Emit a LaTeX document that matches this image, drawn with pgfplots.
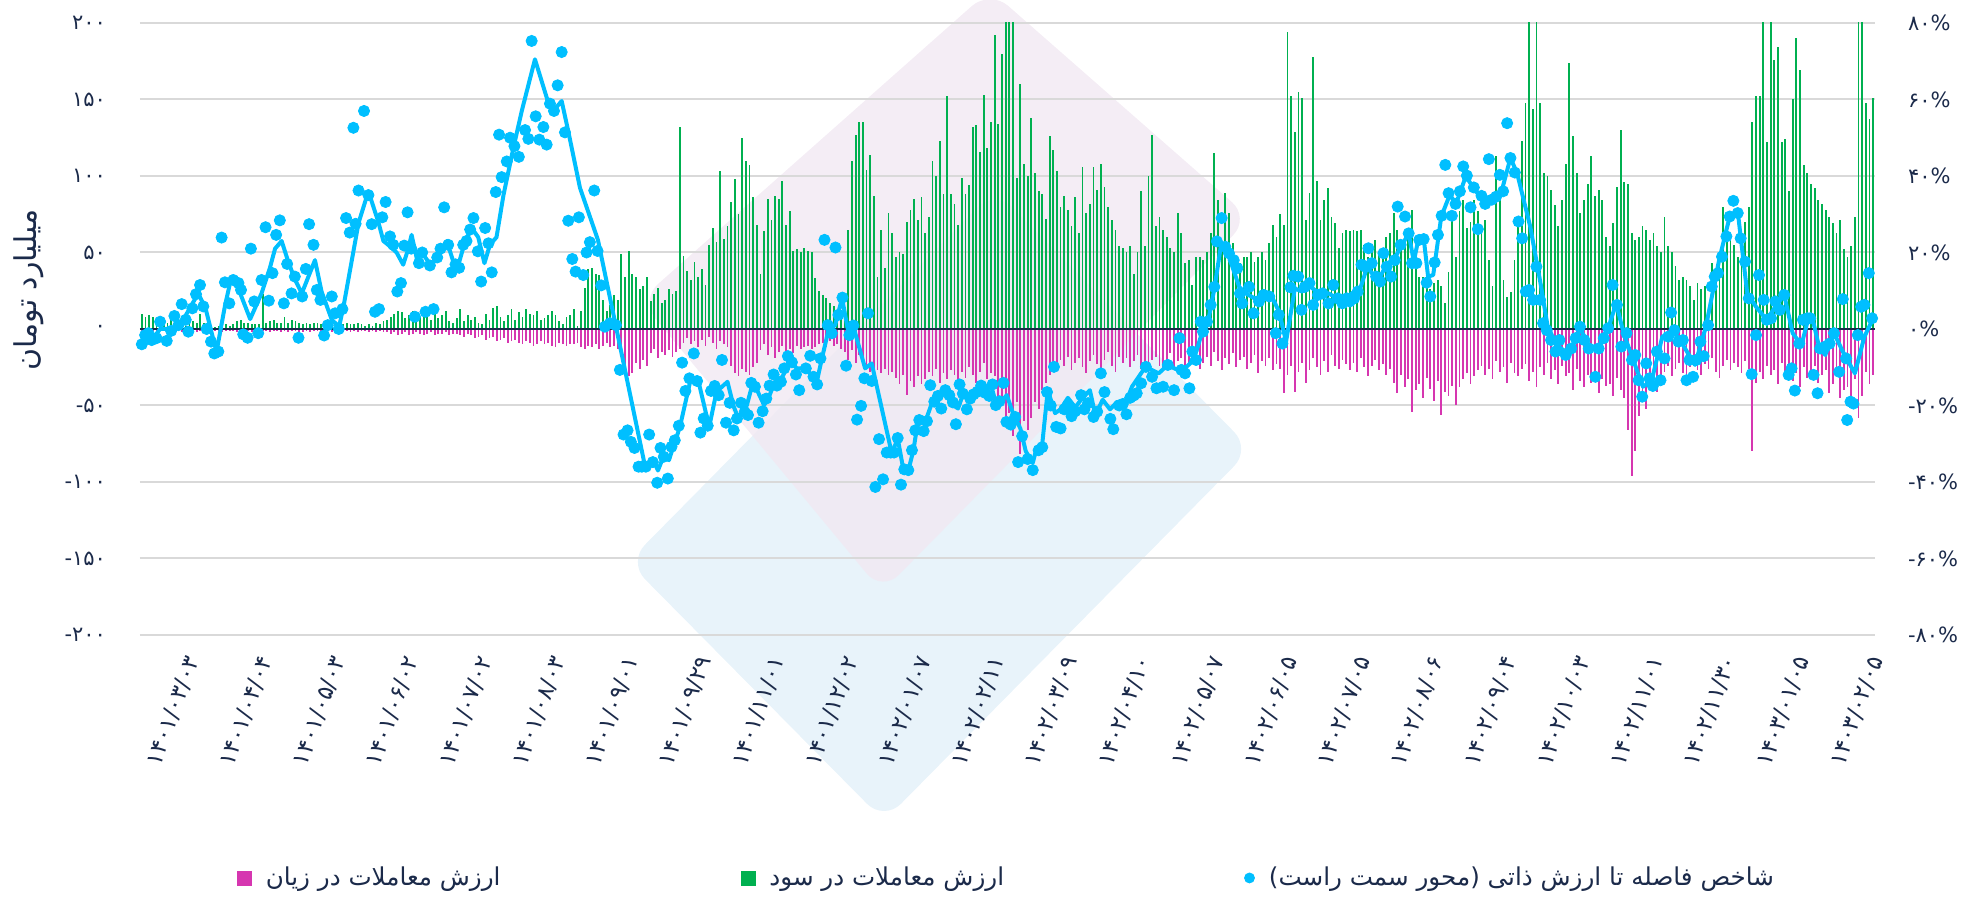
\documentclass[border=0pt]{standalone}
\usepackage{pgfplots}
\pgfplotsset{compat=1.18}
\usepackage{pgfplotstable}
\usepackage{fontspec}
\setmainfont{DejaVu Sans}
\newfontfamily\fa[Script=Arabic]{DejaVu Sans}
\TeXXeTstate=1
\definecolor{navy}{RGB}{27,42,74}
\definecolor{gbar}{RGB}{0,176,80}
\definecolor{mbar}{RGB}{214,54,176}
\definecolor{cy}{RGB}{0,191,255}
\definecolor{gridc}{RGB}{217,217,217}
\definecolor{pinkbg}{RGB}{241,232,242}
\definecolor{bluebg}{RGB}{232,243,250}
\newcommand{\mn}{-\kern0pt}

\pgfplotstableread[row sep=\\]{g\\10\\8\\9\\8\\7\\3\\6\\4\\8\\3\\5\\3\\2\\6\\5\\4\\10\\4\\4\\2\\1\\2\\3\\3\\2\\3\\5\\6\\4\\4\\3\\3\\3\\23\\4\\5\\6\\4\\4\\8\\4\\6\\5\\4\\3\\4\\3\\4\\4\\3\\2\\4\\3\\2\\2\\3\\4\\3\\3\\4\\3\\
2\\3\\2\\4\\3\\5\\6\\8\\10\\12\\11\\7\\9\\12\\10\\8\\13\\9\\6\\11\\7\\9\\12\\5\\4\\7\\13\\5\\9\\6\\8\\4\\3\\10\\6\\14\\15\\8\\5\\9\\13\\6\\11\\8\\13\\10\\9\\12\\6\\7\\9\\12\\9\\5\\3\\8\\9\\
13\\2\\12\\27\\39\\40\\36\\35\\19\\12\\16\\22\\19\\49\\34\\51\\36\\34\\26\\28\\34\\18\\23\\27\\17\\19\\26\\23\\25\\132\\48\\38\\32\\44\\34\\39\\29\\55\\66\\57\\103\\59\\67\\83\\98\\75\\125\\110\\107\\86\\68\\36\\64\\85\\71\\87\\85\\97\\68\\77\\51\\
52\\50\\53\\51\\50\\33\\25\\22\\20\\17\\15\\10\\10\\10\\65\\110\\127\\135\\135\\104\\114\\87\\34\\65\\40\\76\\63\\47\\50\\49\\70\\78\\85\\71\\86\\63\\73\\110\\100\\123\\88\\152\\88\\82\\68\\99\\88\\94\\132\\133\\116\\153\\118\\135\\192\\134\\180\\210\\215\\210\\99\\160\\
108\\100\\138\\102\\90\\88\\72\\126\\117\\103\\80\\87\\78\\67\\86\\63\\106\\76\\82\\106\\91\\108\\93\\80\\71\\65\\54\\53\\50\\54\\36\\50\\90\\54\\100\\127\\67\\73\\65\\60\\53\\50\\76\\63\\43\\45\\29\\47\\47\\45\\50\\63\\115\\84\\54\\89\\76\\56\\45\\43\\47\\47\\50\\44\\47\\50\\45\\56\\68\\60\\75\\68\\194\\152\\129\\155\\151\\71\\89\\178\\97\\71\\84\\92\\73\\69\\53\\63\\65\\64\\
65\\64\\65\\55\\47\\54\\58\\50\\53\\60\\63\\76\\65\\58\\62\\63\\78\\54\\34\\34\\37\\26\\30\\32\\28\\17\\37\\73\\47\\77\\84\\66\\70\\84\\77\\67\\71\\45\\28\\113\\93\\32\\21\\24\\45\\67\\123\\148\\215\\144\\210\\148\\102\\100\\91\\81\\67\\84\\108\\174\\126\\102\\76\\84\\95\\113\\87\\91\\84\\60\\54\\69\\93\\130\\96\\95\\63\\58\\60\\67\\65\\58\\63\\54\\50\\73\\54\\50\\41\\32\\34\\32\\28\\19\\30\\26\\28\\12\\43\\34\\50\\80\\67\\58\\55\\47\\63\\70\\80\\135\\152\\152\\212\\122\\210\\176\\184\\122\\124\\90\\150\\190\\169\\107\\102\\95\\92\\84\\82\\78\\73\\69\\63\\71\\52\\47\\54\\73\\205\\210\\148\\137\\151\\}\gtab

\pgfplotstableread[row sep=\\]{m\\-1\\-2\\-1\\-1\\-2\\-1\\-1\\-1\\-2\\-1\\-1\\-2\\-1\\-1\\-1\\-2\\-1\\-1\\-1\\-2\\-1\\-1\\-2\\-1\\-1\\-1\\-2\\-1\\-1\\-1\\-2\\-1\\-2\\-1\\-1\\-2\\-1\\-1\\-2\\-1\\-2\\-1\\-1\\-2\\-2\\-1\\-2\\-1\\-1\\-2\\-2\\-1\\-2\\-1\\-2\\-2\\-1\\-2\\-1\\-2\\-1\\
-1\\-2\\-1\\-2\\-1\\-2\\-2\\-3\\-2\\-4\\-3\\-2\\-4\\-3\\-2\\-3\\-4\\-3\\-2\\-4\\-3\\-3\\-2\\-4\\-3\\-3\\-4\\-5\\-3\\-4\\-6\\-5\\-4\\-7\\-6\\-5\\-8\\-7\\-6\\-9\\-8\\-7\\-9\\-10\\-8\\-9\\-11\\-10\\-8\\-10\\-9\\-11\\-12\\-9\\-10\\-11\\-10\\
-10\\-9\\-12\\-13\\-11\\-12\\-10\\-13\\-11\\-9\\-12\\-11\\-13\\-18\\-25\\-31\\-29\\-22\\-26\\-20\\-24\\-16\\-13\\-19\\-15\\-17\\-14\\-18\\-15\\-13\\-9\\-6\\-10\\-8\\-12\\-7\\-11\\-5\\-9\\-13\\-8\\-10\\-12\\-24\\-29\\-31\\-26\\-28\\-30\\-25\\-22\\-14\\-10\\-17\\-12\\-19\\-15\\-11\\-18\\-13\\-16\\
-11\\-13\\-12\\-11\\-13\\-12\\-10\\-9\\-12\\-8\\-11\\-10\\-13\\-15\\-20\\-14\\-22\\-17\\-19\\-26\\-28\\-30\\-27\\-29\\-26\\-30\\-28\\-32\\-36\\-30\\-43\\-34\\-38\\-31\\-36\\-33\\-28\\-31\\-26\\-35\\-29\\-33\\-27\\-30\\-34\\-28\\-32\\-25\\-30\\-35\\-28\\-22\\-33\\-29\\-31\\-45\\-50\\-62\\-55\\-70\\-48\\-82\\
-60\\-66\\-58\\-48\\-52\\-40\\-35\\-30\\-28\\-25\\-20\\-24\\-18\\-27\\-22\\-19\\-25\\-29\\-21\\-17\\-23\\-26\\-20\\-15\\-24\\-28\\-18\\-22\\-19\\-25\\-21\\-17\\-26\\-23\\-29\\-20\\-18\\-24\\-27\\-22\\-16\\-25\\-21\\-19\\-28\\-23\\-17\\-20\\-26\\-22\\-18\\-24\\-15\\-21\\-27\\-19\\-23\\-16\\-25\\-20\\-18\\-26\\-22\\-17\\-29\\-21\\-24\\-19\\-27\\-23\\-26\\-42\\-30\\-24\\-41\\-28\\-22\\-35\\-27\\-19\\-25\\-30\\-21\\-28\\-17\\-24\\-26\\-20\\-23\\-27\\
-22\\-28\\-19\\-25\\-31\\-24\\-20\\-27\\-23\\-30\\-26\\-35\\-42\\-30\\-38\\-33\\-54\\-40\\-36\\-45\\-32\\-39\\-47\\-34\\-56\\-41\\-44\\-37\\-50\\-38\\-33\\-29\\-36\\-31\\-27\\-24\\-30\\-26\\-33\\-21\\-28\\-25\\-35\\-22\\-29\\-31\\-26\\-23\\-34\\-28\\-38\\-25\\-30\\-22\\-33\\-27\\-36\\-24\\-31\\-29\\-40\\-26\\-34\\-38\\-30\\-35\\-28\\-42\\-33\\-37\\-36\\-44\\-32\\-40\\-45\\-66\\-96\\-80\\-57\\-43\\-52\\-38\\-35\\-41\\-33\\-28\\-24\\-31\\-26\\-22\\-29\\-33\\-25\\-21\\-27\\-30\\-23\\-26\\-19\\-28\\-32\\-24\\-20\\-27\\-22\\-25\\-29\\-21\\-26\\-80\\-35\\-28\\-33\\-24\\-30\\-27\\-36\\-22\\-31\\-26\\-34\\-29\\-38\\-25\\-32\\-28\\-24\\-35\\-30\\-27\\-42\\-36\\-31\\-45\\-40\\-38\\-47\\-33\\-58\\-44\\-28\\-36\\-30\\}\mtab

\begin{document}
\begin{tikzpicture}
\path[use as bounding box] (-70pt,-131pt) rectangle (920.5pt,317.5pt);
\fill[bluebg, rounded corners=12pt] (244pt,36.5pt) -- (372pt,-93pt) -- (555.5pt,93pt) -- (427.5pt,222.5pt) -- cycle;
\fill[pinkbg, opacity=0.8, rounded corners=12pt] (425pt,322.5pt) -- (555pt,208.5pt) -- (371pt,21.5pt) -- (250pt,167.5pt) -- cycle;

\begin{axis}[
  at={(0,0)}, anchor=south west,
  scale only axis, width=867.5pt, height=306pt,
  xmin=-0.5, xmax=473.5, ymin=-200, ymax=200,
  enlargelimits=false, clip=true,
  axis line style={draw=none},
  major tick length=0pt,
  ymajorgrids, grid style={gridc, line width=1pt},
  ytick={-200,-150,...,200},
  yticklabels={\mn۲۰۰,\mn۱۵۰,\mn۱۰۰,\mn۵۰,۰,۵۰,۱۰۰,۱۵۰,۲۰۰},
  yticklabel style={font=\fa\fontsize{10.5}{12}\selectfont, text=navy, xshift=-13.5pt},
  xtick={13,33,...,473},
  xticklabels={۱۴۰۱/۰۳/۰۳,۱۴۰۱/۰۴/۰۴,۱۴۰۱/۰۵/۰۳,۱۴۰۱/۰۶/۰۲,۱۴۰۱/۰۷/۰۲,۱۴۰۱/۰۸/۰۳,۱۴۰۱/۰۹/۰۱,۱۴۰۱/۰۹/۲۹,۱۴۰۱/۱۱/۰۱,۱۴۰۱/۱۲/۰۲,۱۴۰۲/۰۱/۰۷,۱۴۰۲/۰۲/۱۱,۱۴۰۲/۰۳/۰۹,۱۴۰۲/۰۴/۱۰,۱۴۰۲/۰۵/۰۷,۱۴۰۲/۰۶/۰۵,۱۴۰۲/۰۷/۰۵,۱۴۰۲/۰۸/۰۶,۱۴۰۲/۰۹/۰۴,۱۴۰۲/۱۰/۰۳,۱۴۰۲/۱۱/۰۱,۱۴۰۲/۱۱/۳۰,۱۴۰۳/۰۱/۰۵,۱۴۰۳/۰۲/۰۵},
  xticklabel style={font=\fa\fontsize{11.5}{13}\selectfont, text=navy, anchor=east, inner sep=1pt, xshift=2pt, yshift=-10pt, rotate=70},
  ylabel={\beginR میلیارد تومان\endR},
  ylabel style={font=\fa\fontsize{15}{17}\selectfont, text=navy, at={(axis description cs:-0.064,0.564)}, anchor=center},
  legend columns=3,
  legend cell align=left,
  legend style={at={(0.5,-0.397)}, anchor=center, draw=none, fill=none,
    font=\fa\fontsize{12.3}{14}\selectfont, text=navy,
    /tikz/every even column/.append style={column sep=118pt},
    /tikz/every odd column/.append style={column sep=5pt}},
]
\addplot[ycomb, gbar, line width=0.9pt, forget plot] table[x expr=\coordindex, y=g] {\gtab};
\addplot[ycomb, mbar, line width=0.9pt, forget plot] table[x expr=\coordindex, y=m] {\mtab};
\addplot[navy, line width=1pt, forget plot] coordinates {(-0.5,0) (473.5,0)};
\addlegendimage{legend image code/.code={\fill[mbar] (0pt,-3.5pt) rectangle (7pt,3.5pt);}}
\addlegendentry{\beginR ارزش معاملات در زیان\endR}
\addlegendimage{legend image code/.code={\fill[gbar] (0pt,-3.5pt) rectangle (7pt,3.5pt);}}
\addlegendentry{\beginR ارزش معاملات در سود\endR}
\addlegendimage{legend image code/.code={\fill[cy] (3.5pt,0pt) circle (2.5pt);}}
\addlegendentry{\beginR شاخص فاصله تا ارزش ذاتی (محور سمت راست)\endR}
\end{axis}

\begin{axis}[
  at={(0,0)}, anchor=south west,
  scale only axis, width=867.5pt, height=306pt,
  xmin=-0.5, xmax=473.5, ymin=-80, ymax=80,
  enlargelimits=false, clip=true,
  axis x line=none, axis y line*=right,
  axis line style={draw=none},
  major tick length=0pt,
  ytick={-80,-60,...,80},
  yticklabels={\mn۸۰\%,\mn۶۰\%,\mn۴۰\%,\mn۲۰\%,۰\%,۲۰\%,۴۰\%,۶۰\%,۸۰\%},
  yticklabel style={font=\fa\fontsize{10.5}{12}\selectfont, text=navy, anchor=west, xshift=13pt},
]
\addplot[cy, line width=2pt, line join=round] coordinates {
(0,-1.6) (2.7,-2.9) (5,0) (8.2,0) (10.9,1.7) (15.4,9.3) (17.4,5.4) (20.4,-6) (22.7,6) (24.5,13.7) (26.4,10.5) (29.6,2.6) (32.7,9.3) (35,16) (36.4,21) (38.2,23) (40,17.6) (41.8,13) (43.7,9.3) (47.3,18) (49.1,9.8) (51.9,2.4) (53.9,0.6) (55.1,5.9) (59.2,27.7) (61.9,36) (64.6,28) (66,23) (67.3,22) (69.6,20) (71.4,16.8) (72.8,21) (73.7,24.6) (75.1,18.5) (76.5,20) (78.7,17) (80.6,18) (81.7,20) (83.3,23) (85.1,17.6) (86.5,16.8) (88.3,22.9) (90.1,26.4) (91.9,24) (93.6,17.2) (95.1,22) (96.9,24) (98.8,35) (101.5,47.3) (103.8,57) (107.4,70.5) (110.9,59.6) (112.4,57) (114.7,59.6) (116.5,51.7) (119.7,36.9) (124.6,23.3) (137.5,-36) (140,-34.8) (141,-37) (142.5,-33.4) (144,-34.3) (147,-25.6) (150,-12.9) (152,-13.4) (155,-25.6) (157,-16.4) (160,-13.8) (161.7,-20.3) (163,-23.4) (165.3,-19.9) (167,-13.8) (170,-19.9) (171.5,-17.3) (173,-13.8) (175,-12.5) (177,-8.6) (179,-10.3) (181,-10.3) (183,-12) (184.4,-13.8) (185.8,-7.7) (187.6,-0.3) (189.4,1) (191.3,8) (193,-0.7) (194.4,0.6) (197.6,-10.3) (199.4,-9) (204.9,-32.6) (206.5,-28.6) (208,-36.5) (209.4,-37) (210.8,-31.7) (212,-24.3) (214,-24.3) (215.8,-19.5) (217.6,-17.3) (219.5,-16.4) (221,-19.5) (223,-20.8) (224.4,-16.9) (225.7,-17.3) (227.5,-16.4) (229.5,-15.5) (232,-14.7) (233.6,-20.3) (236.3,-17.3) (238,-22) (240,-26) (241.5,-32) (243.4,-35) (244.5,-31) (246,-30) (247.5,-16) (249.5,-22) (251,-21) (253,-18) (255,-20.5) (257,-18) (259,-16) (260.5,-22.5) (262.5,-18.5) (264.5,-21) (266.5,-19) (268.5,-20) (270.5,-15.1) (274.2,-9.9) (277.8,-11.6) (280.3,-9.4) (283.9,-11.2) (286.4,-9) (288.2,-5.5) (290,0.2) (291.2,1.5) (293.1,11) (294.9,22.4) (296.7,19.8) (299.8,11) (301.6,9.3) (304,8) (305.9,8.5) (308.3,9.3) (310.7,4.5) (312.6,-3.3) (315,10.6) (316.9,9.8) (319.3,11) (321.7,9.3) (324.2,9.3) (326.6,8) (330,8.9) (333,11) (334.8,16.3) (336,14.6) (338.3,13.7) (340.1,16.8) (342.5,18.9) (344.3,22) (346.1,25) (347.5,17.6) (348.7,23.3) (350.2,23.7) (351.4,13.7) (352.8,14.1) (355,29.4) (357.3,35) (359.1,32.9) (361.7,39.9) (363.9,36.8) (366.8,32.9) (369.2,34.2) (371.6,36.4) (373.9,44.7) (375.7,40.8) (379.3,26.8) (382.2,11.5) (384,1) (386.4,-4.2) (389,-5.9) (391.1,-4) (392.9,0.2) (395.3,-4.2) (398,-5.1) (400.6,0.2) (402.8,6.7) (404.8,-1.1) (407.1,-7.2) (410.1,-15.1) (412.5,-13.4) (415.4,-2) (418.4,-0.7) (420.8,-3.8) (424.3,-9.4) (427.3,0.6) (430.9,18) (433.8,29.4) (436,30.7) (438.6,9.3) (441,5.8) (443.9,2.4) (446.9,6.7) (448.7,8.9) (451,-1.1) (453.4,-4.2) (455.2,2.4) (456.4,2.8) (458.2,-4.6) (459.9,-6.8) (462.3,-1.1) (464.7,-5.9) (468,-11.6) (470.6,-2) (473,2.8)
};
\addplot[only marks, mark=*, mark size=2.8pt, mark options={draw=cy, fill=cy}] coordinates {
(0,-4.0) (0.9,-1.6) (1.8,-1.1) (2.7,-2.9) (4.0,-2.4) (5.0,1.9) (6.8,-3.1) (8.0,-0.5) (8.9,3.4) (10.0,1.0) (10.9,6.5) (12.0,2.4) (12.7,-0.7) (13.8,5.4) (14.8,9.1) (15.9,11.5) (16.8,5.9) (17.7,0) (18.9,-3.3) (19.8,-6.4) (20.9,-5.9) (21.8,23.9) (22.7,12.2) (23.9,6.7) (25,12.8) (26.4,12) (27.1,10.2) (27.7,-1.4) (28.9,-2.3) (29.8,21) (30.7,7.2) (31.8,-1.1) (32.7,12.8) (33.8,26.6) (34.7,7.4) (35.7,14.6) (36.7,24.6) (37.7,28.4) (38.8,6.7) (39.7,17) (40.9,9.3) (41.8,13.7) (42.8,-2.3) (43.8,8.5) (44.8,15.7) (45.7,27.4) (46.9,22) (47.8,10.2) (48.8,7.6) (49.8,-1.7) (50.8,1) (51.9,8.5) (52.8,4.1) (53.8,0) (54.8,5.2) (55.8,29) (56.8,25.2) (57.8,52.6) (58.4,27.5) (59.2,36.2)
(60.7,57) (61.9,35) (62.8,27.4) (63.7,4.5) (64.8,5.2) (65.7,29.2) (66.6,33.2) (67.8,24.2) (68.7,22) (69.8,9.8) (70.8,12) (71.7,21.8) (72.6,30.5) (73.6,21) (74.6,3.2) (75.7,17.2) (76.6,20) (77.5,4.5) (78.7,16.6) (79.7,5.2) (80.7,18.7) (81.6,21) (82.6,31.8) (83.7,22) (84.6,14.8) (85.7,16.9) (86.7,16) (87.8,22) (88.7,23) (89.7,26) (90.6,29) (91.8,20.3) (92.7,12.4) (93.8,26.4) (94.7,22.4) (95.6,14.8) (96.7,35.8) (97.6,50.8) (98.3,39.7) (99.7,43.8) (100.6,50) (101.8,47.8) (103,45) (104.7,52) (105.6,49.7) (106.5,75.3) (107.6,55.6) (108.6,49.5) (109.7,52.8) (110.6,48.2) (111.5,58.9) (112.6,57) (113.6,63.7) (114.7,72.4) (115.6,51.4) (116.5,28.3) (117.6,18.3) (118.5,15) (119.4,29.2)
(120.6,14.1) (121.5,20) (122.4,22.7) (123.6,36.2) (124.5,20.4) (125.5,11.4) (126.5,0.6) (127.9,1.5) (129.5,1) (130.6,-10.7) (131.6,-27.6) (132.7,-26.5) (133.6,-29.5) (134.6,-31.1) (135.7,-36) (136.6,-36) (137.7,-36) (138.6,-27.6) (139.6,-34.8) (140.8,-40.2) (141.7,-31.1) (142.6,-33.4) (143.7,-39.1) (144.7,-30.8) (145.6,-29.1) (146.7,-25.3) (147.6,-8.8) (148.5,-16.2) (149.6,-12.9) (150.8,-6.4) (151.7,-13.6) (152.6,-27.1) (153.5,-23.4) (154.6,-25.3) (155.5,-16.2) (156.5,-14.9) (157.6,-17.3) (158.5,-8.1) (159.6,-24.5) (160.6,-19.3) (161.7,-26.5) (162.6,-23.4) (163.7,-19.3) (164.7,-21.7) (165.6,-22.5) (166.5,-14.1) (167.5,-15.1) (168.5,-24.5) (169.6,-21.5) (170.6,-18.2) (171.5,-14.8) (172.6,-11.9) (173.5,-14.8) (174.6,-13.8) (175.5,-10.3) (176.5,-7.1) (177.6,-8.7) (178.7,-11.9) (179.6,-16)
(181.4,-10.3) (182.6,-7) (183.5,-12.5) (184.5,-14.5) (185.4,-7.7) (186.5,23.3) (187.4,1) (188.5,-1.1) (189.5,21.3) (190.3,3.7) (191.4,8.2) (192.4,-9.6) (193.3,-1.6) (194.4,0.9) (195.4,-23.7) (196.5,-20.1) (197.4,-12.9) (198.4,4.1) (199.4,-13.6) (200.4,-41.3) (201.4,-28.8) (202.5,-39.3) (203.5,-32.3) (204.6,-32.3) (205.5,-32.3) (206.5,-28.5) (207.4,-40.7) (208.3,-36.7) (209.4,-36.9) (210.4,-31.7) (211.3,-26.5) (212.4,-23.8) (213.6,-26.7) (214.5,-24.1) (215.4,-14.7) (216.5,-19) (217.5,-17.5) (218.4,-20.8) (219.5,-16) (220.6,-17.3) (221.6,-19.2) (222.4,-24.9) (223.4,-14.5) (224.3,-16.9) (225.4,-21) (226.3,-18.2) (227.2,-17.1) (228.3,-16.4) (229.3,-14.8) (230.4,-16.7) (231.5,-17.5) (232.4,-14.5) (233.3,-19.9) (234.3,-18.9) (235.4,-14.1) (236.2,-24.3) (237.4,-25) (238.6,-23) (239.4,-34.8)
(240.5,-28) (242,-34) (243.4,-36.9) (245,-31.7) (246,-30.9) (247.3,-16.5) (248.3,-20) (249.2,-9.9) (249.8,-25.6) (251,-26) (252,-21) (253,-19.9) (254,-22.8) (255,-21.5) (256.6,-17.3) (257.5,-21) (258.5,-19.4) (260,-23) (261,-21.6) (262,-11.6) (263,-16.5) (264.6,-23.5) (265.4,-26.2) (267,-20) (268,-19.6) (269,-22.3) (270,-18) (271,-17.4)
(271.8,-16.8) (273,-14.2) (274.3,-9.9) (276,-12.5) (277.2,-15.5) (279,-15.1) (280.3,-9.4) (282,-16) (283.5,-2.4) (284,-10.7) (285,-11.6) (286.2,-15.5) (287,-5.9) (288,-8.1) (289.3,1.9) (289.9,-0.7) (291,1.9) (292,6.3) (293,11) (293.7,22.9) (295,29) (296,21.5) (297,19.8) (298.3,18) (299.3,15.9) (300,9.3) (300.6,6.7) (302.5,11) (303.7,4.1) (305.2,7.2) (306.5,8.9) (308,8.5) (309.8,-1.1) (310.6,3.7) (311.6,-3.8) (313.8,10.9) (314.6,13.9) (315.9,13.7) (316.8,5) (317.7,11) (319,12) (320,6.3) (321.3,8.9) (322.6,9.3) (324.2,6.7) (325.5,11.5) (326.7,8) (328,6.7) (329.2,8)
(330,7.2) (331.2,8) (332.2,9.8) (333.2,16.8) (334.2,16.3) (335.1,21.1) (336,17.2) (337.2,13.7) (338.3,12.4) (339.2,19.8) (340.1,16.3) (341.3,13.7) (342.3,18) (343.1,32) (343.9,22) (345.1,29.4) (346.1,25) (347,17.2) (348.2,17.2) (349,23.3) (350.2,23.5) (351,12.1) (352,8.5) (353.2,17.4) (354.1,24.6) (355.1,29.6) (356.1,42.9) (357,35.5) (357.9,29.6) (358.9,32.7) (360.1,36) (361,42.5) (362,40.1) (363,31.8) (363.9,37) (365,26.1) (366,34.8) (367,32.7) (368,44.4) (368.8,33.8) (370,34.6) (371,40.3) (371.9,36) (373,53.8) (373.9,44.7) (375.1,40.9) (376.1,28.1) (377.1,23.7) (378.1,9.8) (379,10.2) (380.1,7.6) (381,16.3) (382,7.6) (382.8,1.5) (383.8,-0.3) (385,-2.9) (386.2,-5.9) (387.3,-2.9) (389,-6.8) (390.5,-5.1) (391.7,-2.4) (392.9,0.6) (394.1,-2.9) (395.3,-5.1) (397.1,-12.5) (398,-5.1) (399.4,-2.4) (400.6,0.2) (401.8,11.5) (403,6.3) (404.2,-4.6) (405.6,-1.1) (407.1,-8.1) (408,-6.8) (408.9,-13.4) (409.9,-17.7) (411,-9) (411.9,-12.9) (412.8,-14.9) (413.9,-5.9) (414.9,-13.4) (416,-7.7) (417,-2) (417.8,4.3) (418.7,-0.3) (419.8,-3.3) (421,-2.9) (422,-13.4) (422.8,-8.1) (423.8,-12.5) (424.7,-8.1) (425.8,-3.3) (426.7,-7.1) (427.9,1) (428.9,11.1) (429.7,13.7) (430.6,14.6) (431.7,18.9) (432.9,24.2) (433.8,29.4) (434.8,33.5) (436,30.3) (436.8,23.7) (438,17.6) (439,8) (439.8,-11.8) (441,-1.6) (441.8,14.1) (443.1,7.6) (443.9,2.4) (445.1,2.8) (446.3,7.2) (447.5,5) (448.7,8.9) (449.9,-12) (450.7,-10.3) (451.6,-16.1) (452.8,-3.8) (453.8,2.4) (455,2.8) (455.8,2.8) (456.7,-12) (457.8,-16.8) (458.5,-5.1) (459.9,-4.6) (461.1,-3.8) (462.3,-1.1) (463.7,-11.2) (464.7,7.8) (465.6,-7.7) (465.9,-23.8) (466.8,-19) (467.6,-19.5) (468.8,-1.6) (469.7,5.8) (470.6,6.3) (471.8,14.6) (472.7,2.8)
};
\end{axis}
\end{tikzpicture}
\end{document}
